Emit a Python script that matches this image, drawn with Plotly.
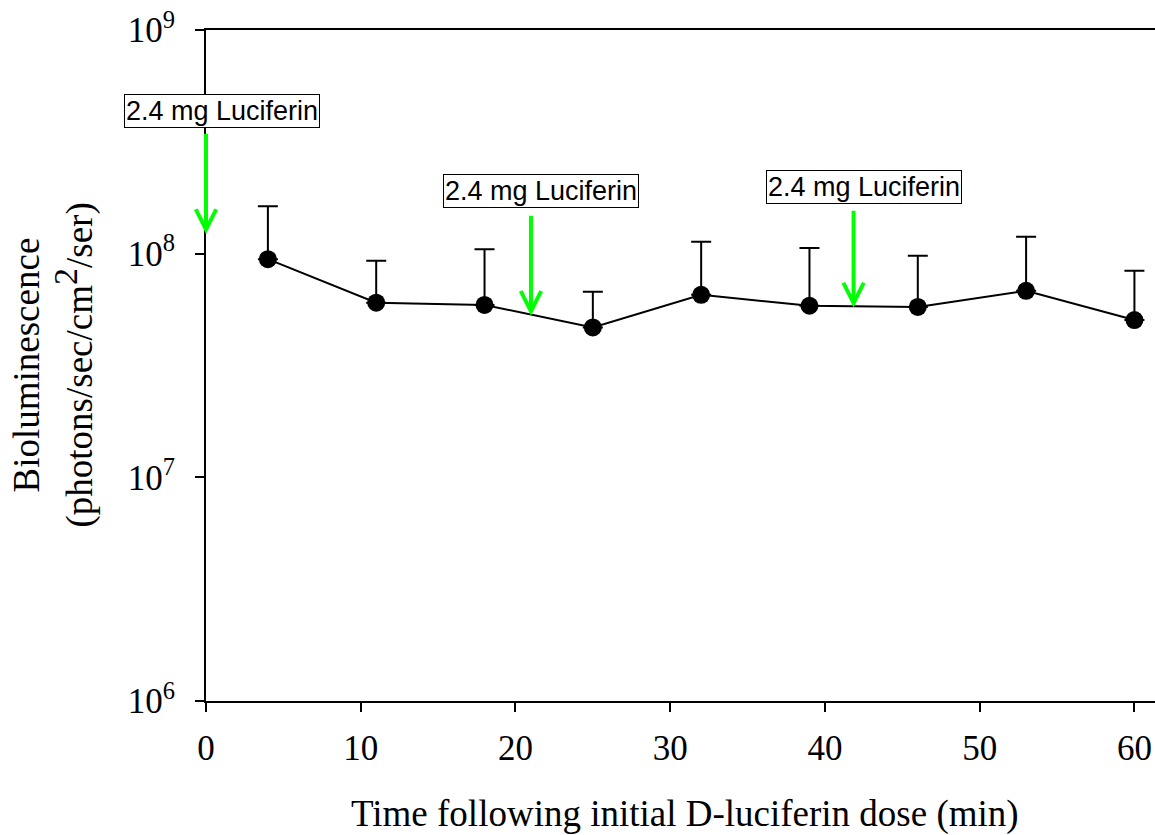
import plotly.graph_objects as go

# ---- data ----
time_min = [4, 11, 18, 25, 32, 39, 46, 53, 60]
biolum_mean = [9.45e7, 6.04e7, 5.90e7, 4.68e7, 6.55e7, 5.85e7, 5.78e7, 6.82e7, 5.05e7]
biolum_upper = [1.63e8, 9.29e7, 1.047e8, 6.75e7, 1.13e8, 1.06e8, 9.78e7, 1.19e8, 8.38e7]

dose_times = [0, 21, 41.85]                 # arrow x positions (min)
dose_label = "2.4 mg Luciferin"
arrow_tip_log = [8.088, 7.722, 7.759]       # log10 of arrow tip
arrow_tail_log = [8.543, 8.176, 8.199]      # log10 of arrow tail
label_x = [1.05, 21.62, 42.53]
label_y_log = [8.637, 8.280, 8.299]

y_tickvals = [1e6, 1e7, 1e8, 1e9]
y_ticktext = ["10<sup>6</sup>", "10<sup>7</sup>", "10<sup>8</sup>", "10<sup>9</sup>"]
x_tickvals = [0, 10, 20, 30, 40, 50, 60]

err_plus = [u - m for u, m in zip(biolum_upper, biolum_mean)]
err_minus = [0] * len(biolum_mean)

SERIF = "Liberation Serif, Times New Roman, serif"
SANS = "Liberation Sans, Arial, sans-serif"

fig = go.Figure()
fig.add_trace(go.Scatter(
    x=time_min, y=biolum_mean, mode="lines+markers",
    line=dict(color="black", width=2),
    marker=dict(color="black", size=18),
    error_y=dict(type="data", symmetric=False, array=err_plus, arrayminus=err_minus,
                 color="black", thickness=2, width=10),
    showlegend=False,
))

annotations = []
for xt, tip, tail in zip(dose_times, arrow_tip_log, arrow_tail_log):
    annotations.append(dict(
        x=xt, y=tip, ax=xt, ay=tail, xref="x", yref="y", axref="x", ayref="y",
        text="", showarrow=True, arrowhead=5, arrowsize=1, arrowwidth=4,
        arrowcolor="#00FF00",
    ))
for lx, ly in zip(label_x, label_y_log):
    annotations.append(dict(
        x=lx, y=ly, xref="x", yref="y", text=dose_label, showarrow=False,
        font=dict(family=SANS, size=27, color="black"),
        bgcolor="white", bordercolor="black", borderwidth=1, borderpad=1,
        xanchor="center", yanchor="middle",
    ))
# axis titles
annotations.append(dict(
    x=0.505, y=0, xref="paper", yref="paper", yanchor="top", xanchor="center",
    yshift=-90, text="Time following initial D-luciferin dose (min)", showarrow=False,
    font=dict(family=SERIF, size=37, color="black"),
))
annotations.append(dict(
    x=0, y=0.5, xref="paper", yref="paper", xanchor="center", yanchor="middle",
    xshift=-180, textangle=-90, text="Bioluminescence", showarrow=False,
    font=dict(family=SERIF, size=37, color="black"),
))
annotations.append(dict(
    x=0, y=0.5, xref="paper", yref="paper", xanchor="center", yanchor="middle",
    xshift=-132, textangle=-90,
    text="(photons/sec/cm<sup><span style=\"font-size:34px\">2</span></sup>/ser)",
    showarrow=False, font=dict(family=SERIF, size=37, color="black"),
))

fig.update_layout(
    width=1155, height=835,
    margin=dict(l=206, r=0, t=30, b=134),
    plot_bgcolor="white", paper_bgcolor="white",
    annotations=annotations,
    xaxis=dict(
        range=[0, 61.33], tickvals=x_tickvals, ticks="outside", ticklen=9,
        tickwidth=2, tickcolor="black", showline=True, linecolor="black",
        linewidth=2, mirror=True, showgrid=False, zeroline=False,
        ticklabelstandoff=6,
        tickfont=dict(family=SERIF, size=35, color="black"),
    ),
    yaxis=dict(
        type="log", range=[6, 9], tickvals=y_tickvals, ticktext=y_ticktext,
        ticks="outside", ticklen=9, tickwidth=2, tickcolor="black",
        showline=True, linecolor="black", linewidth=2, showgrid=False,
        zeroline=False, ticklabelstandoff=13,
        tickfont=dict(family=SERIF, size=35, color="black"),
    ),
)

fig.write_html("out.html")
